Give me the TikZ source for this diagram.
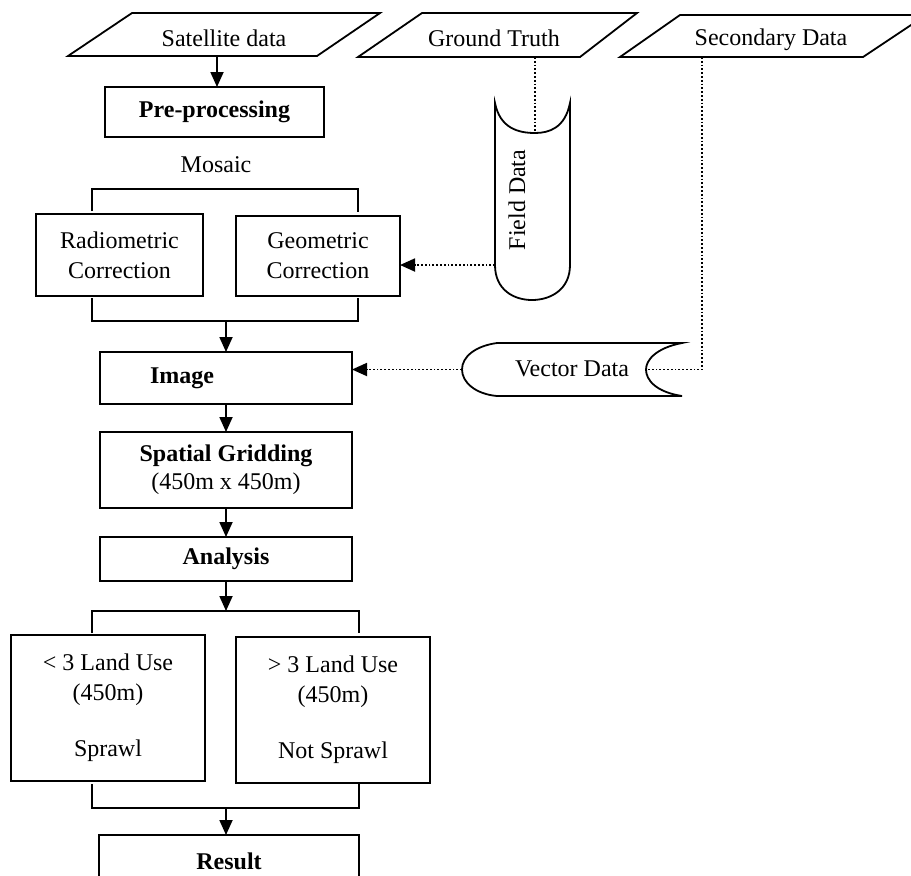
\documentclass[tikz,border=0pt]{standalone}
\usepackage{fontspec}
\setmainfont{Liberation Serif}
\usetikzlibrary{arrows.meta}

\tikzset{
  box/.style={draw, rectangle, inner sep=0pt, outer sep=0pt, align=center},
  flow/.style={-{Triangle[length=7.5pt,width=6.5pt]}},
  feed/.style={densely dotted, line width=0.9pt},
}

\begin{document}
\begin{tikzpicture}[x=0.5pt, y=-0.5pt, line width=0.9pt,
    font=\fontsize{12}{15}\selectfont]
            \useasboundingbox (0,0) rectangle (911,875);
            \clip (0,0) rectangle (911,875);

            \draw (132,13) -- (380,13) -- (317,56) -- (68,56) -- cycle;
            \node (sat) at (224,38) {Satellite data};
            \draw (422,13) -- (637,13) -- (580,57) -- (358,57) -- cycle;
            \node (gt) at (494,38) {Ground Truth};
            \draw (680,15) -- (926,15) -- (863,57) -- (620,57) -- cycle;
            \node (sd) at (771,40) {Secondary Data};
            \coordinate (satbase) at (217,56);
            \coordinate (gtbase) at (535,57);
            \coordinate (sdbase) at (702,57);

            \node[box, minimum width=109.5pt, minimum height=25pt] (pre) at (214.5,112) {\textbf{Pre-processing}};
            \node (mosaic) at (216,165) {Mosaic};
            \node[box, minimum width=83.5pt, minimum height=41pt] (radio) at (119.5,255) {Radiometric\\Correction};
            \node[box, minimum width=82pt, minimum height=40pt] (geo) at (318,256) {Geometric\\Correction};
            \node[box, minimum width=126pt, minimum height=26pt] (image) at (226,378) {\textbf{Image}\hspace{44pt}};
            \node[box, minimum width=126pt, minimum height=38pt] (grid) at (226,470) {\textbf{Spatial Gridding}\\[-1pt](450m x 450m)};
            \node[box, minimum width=126pt, minimum height=22pt] (analysis) at (226,559) {\textbf{Analysis}};
            \node[box, minimum width=97pt, minimum height=73pt] (less) at (108,708) {< 3 Land Use\\(450m)\\[13pt]Sprawl};
            \node[box, minimum width=97pt, minimum height=73pt] (more) at (333,710) {> 3 Land Use\\(450m)\\[13pt]Not Sprawl};
            \node[box, minimum width=130pt, minimum height=26pt] (result) at (229,861) {\textbf{Result}};

            \draw[flow] (satbase) -- (satbase |- pre.north);

            \draw (92,211) -- (92,189) -- (358,189) -- (358,212);
            \draw (92,298) -- (92,321) -- (358,321) -- (358,298);
            \coordinate (corrbot) at (226,321);
            \draw[flow] (corrbot) -- (image.north);
            \draw[flow] (image.south) -- (grid.north);
            \draw[flow] (grid.south) -- (analysis.north);

            \coordinate (anabot) at (226,611);
            \draw[flow] (analysis.south) -- (anabot);
            \draw (92,633) -- (92,611) -- (359,611) -- (359,633);
            \draw (92,784) -- (92,808) -- (359,808) -- (359,784);
            \coordinate (landbot) at (226,808);
            \draw[flow] (landbot) -- (landbot |- result.north);

            \draw (495,103) .. controls (500,128) and (518,133) .. (535,133)
                  .. controls (549,133) and (565,128) .. (570,103)
                  -- (570,265) .. controls (570,290) and (550,300) .. (532,300)
                  .. controls (514,300) and (495,290) .. (495,265) -- cycle;
            \node[rotate=90] (field) at (517,200) {Field Data};
            \coordinate (fdtop) at (535,133);
            \coordinate (fdleft) at (495,265);
            \draw[feed] (gtbase) -- (fdtop);
            \draw[feed, flow] (fdleft) -- (fdleft -| geo.east);

            \draw (497,343) -- (682,343) .. controls (656,348) and (646,360) .. (646,369.5)
                  .. controls (646,380) and (656,392) .. (682,396) -- (497,396)
                  .. controls (475,394) and (462,382) .. (462,369.5)
                  .. controls (462,357) and (475,346) .. (497,343) -- cycle;
            \node (vector) at (572,369) {Vector Data};
            \coordinate (vdright) at (646,369.5);
            \coordinate (vdleft) at (462,369.5);
            \coordinate (sdturn) at (702,369.5);
            \draw[feed] (sdbase) -- (sdturn) -- (vdright);
            \draw[feed, flow] (vdleft) -- (vdleft -| image.east);
          \end{tikzpicture}
\end{document}
